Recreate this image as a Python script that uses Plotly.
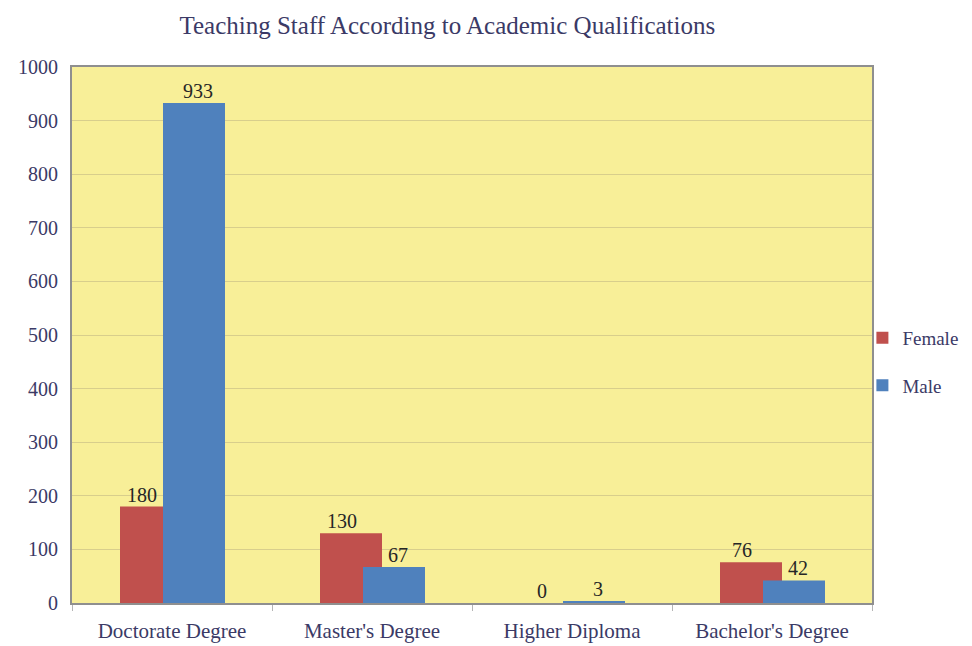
import plotly.graph_objects as go

categories = ["Doctorate Degree", "Master's Degree", "Higher Diploma", "Bachelor's Degree"]
female = [180, 130, 0, 76]
male = [933, 67, 3, 42]
y_ticks = [0, 100, 200, 300, 400, 500, 600, 700, 800, 900, 1000]

TEXT = "#3b3a66"
LABEL = "#262626"
SERIF = "Liberation Serif, Times New Roman, serif"
RED = "#c0504d"
BLUE = "#4f81bd"

# bars overlap a little inside each group, like the original Excel chart
BAR_W = 0.31
fig = go.Figure()
fig.add_trace(go.Bar(
    x=categories, y=female, name="Female", legendgroup="f",
    marker=dict(color=RED, line=dict(width=0)),
    width=BAR_W, offset=-0.26,
))
fig.add_trace(go.Bar(
    x=categories, y=male, name="Male", legendgroup="m",
    marker=dict(color=BLUE, line=dict(width=0)),
    width=BAR_W, offset=-0.045,
))

# value labels on a hidden numeric x axis so they can sit a bit off-centre
idx = list(range(len(categories)))
fig.add_trace(go.Scatter(
    x=[i - 0.15 for i in idx], y=female, xaxis="x2", mode="text",
    text=[str(v) for v in female], textposition="top center",
    textfont=dict(family=SERIF, size=20, color=LABEL),
    showlegend=False, hoverinfo="skip", cliponaxis=False,
))
fig.add_trace(go.Scatter(
    x=[i + 0.13 for i in idx], y=male, xaxis="x2", mode="text",
    text=[str(v) for v in male], textposition="top center",
    textfont=dict(family=SERIF, size=20, color=LABEL),
    showlegend=False, hoverinfo="skip", cliponaxis=False,
))

fig.update_layout(
    width=972, height=646,
    barmode="overlay",
    paper_bgcolor="white",
    plot_bgcolor="#f8ef98",
    font=dict(family=SERIF, color=TEXT, size=20),
    title=dict(text="Teaching Staff According to Academic Qualifications",
               x=0.452, xanchor="center", y=1 - 17 / 646, yanchor="middle",
               font=dict(family=SERIF, size=25, color=TEXT)),
    margin=dict(l=64, r=108, t=59, b=51, autoexpand=False),
    xaxis=dict(
        showgrid=False, showline=True, linecolor="#8f8f8f", linewidth=2,
        mirror=True, ticks="outside", tickcolor="#b5b5b5", ticklen=6,
        tickson="boundaries", ticklabelstandoff=8,
        tickfont=dict(family=SERIF, size=21, color=TEXT),
    ),
    xaxis2=dict(overlaying="x", range=[-0.5, 3.5], visible=False),
    yaxis=dict(
        range=[0, 1000], tickvals=y_ticks,
        showgrid=True, gridcolor="#d8ce8c", gridwidth=1,
        showline=True, linecolor="#8f8f8f", linewidth=2, mirror=True,
        ticks="", zeroline=False, ticklabelstandoff=8,
        tickfont=dict(family=SERIF, size=20, color=TEXT),
    ),
    legend=dict(x=0.988, y=0.45, xanchor="left", yanchor="middle",
                font=dict(family=SERIF, size=19, color=TEXT),
                tracegroupgap=20, itemsizing="constant", itemwidth=30,
                bgcolor="rgba(0,0,0,0)"),
)

fig.write_html("out.html")
